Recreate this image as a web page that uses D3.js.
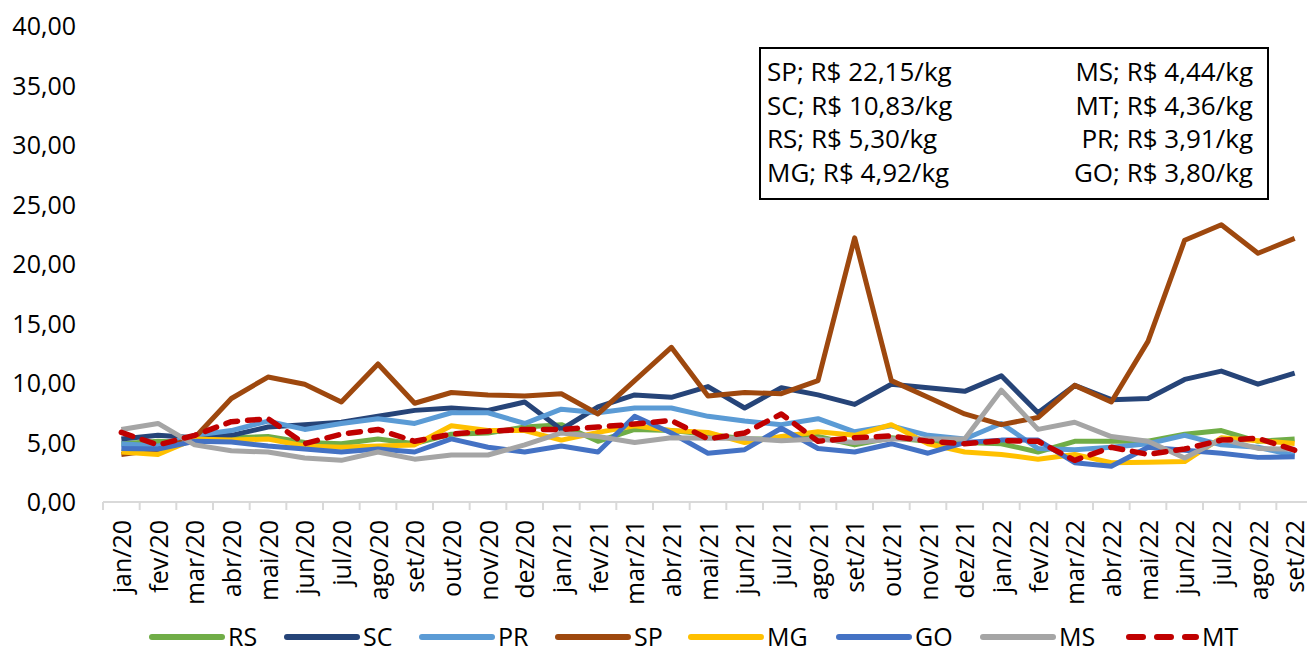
<!doctype html>
<html lang="pt">
<head>
  <meta charset="utf-8">
  <title>Preço por estado</title>
  <script src="https://cdnjs.cloudflare.com/ajax/libs/d3/7.8.5/d3.min.js"></script>
  <style>
    body { margin: 0; background: #fff; overflow: hidden; }
    text { font-family: "Open Sans", "Noto Sans", sans-serif; fill: #000; }
  </style>
</head>
<body>
<script>
  // meses jan/20 .. set/22
  const months = ["jan/20","fev/20","mar/20","abr/20","mai/20","jun/20","jul/20","ago/20","set/20","out/20","nov/20","dez/20",
    "jan/21","fev/21","mar/21","abr/21","mai/21","jun/21","jul/21","ago/21","set/21","out/21","nov/21","dez/21",
    "jan/22","fev/22","mar/22","abr/22","mai/22","jun/22","jul/22","ago/22","set/22"];

  const RS = [4.9,5.1,5.0,5.4,5.5,5.0,4.9,5.3,4.9,5.7,5.8,6.3,6.5,5.1,6.1,6.0,5.7,5.3,5.3,5.5,4.8,5.4,5.1,5.0,4.9,4.2,5.1,5.1,5.1,5.7,6.0,5.1,5.30];
  const SC = [5.3,5.6,5.4,5.6,6.3,6.5,6.7,7.2,7.7,7.9,7.7,8.4,6.1,8.0,9.0,8.8,9.7,7.9,9.6,9.0,8.2,9.9,9.6,9.3,10.6,7.5,9.8,8.6,8.7,10.3,11.0,9.9,10.83];
  const PR = [4.9,4.7,5.6,6.0,6.8,6.1,6.6,7.0,6.6,7.5,7.5,6.6,7.8,7.5,7.9,7.9,7.2,6.8,6.5,7.0,5.9,6.4,5.6,5.3,6.6,4.5,4.4,4.6,4.9,5.6,4.8,4.6,3.91];
  const SP = [4.0,4.4,5.4,8.7,10.5,9.9,8.4,11.6,8.3,9.2,9.0,8.9,9.1,7.4,10.2,13.0,8.9,9.2,9.1,10.2,22.2,10.2,8.8,7.4,6.5,7.1,9.8,8.4,13.5,22.0,23.3,20.9,22.15];
  const MG = [4.2,4.0,5.3,5.2,5.3,4.7,4.6,4.7,4.8,6.4,6.0,6.0,5.2,5.85,6.4,6.0,5.85,5.0,5.5,5.9,5.6,6.5,4.9,4.2,4.0,3.6,4.0,3.3,3.35,3.4,5.4,5.15,4.92];
  const GO = [4.5,4.45,5.1,5.05,4.7,4.45,4.2,4.45,4.2,5.3,4.6,4.2,4.7,4.2,7.2,5.8,4.1,4.4,6.2,4.5,4.2,4.9,4.1,5.0,5.2,5.2,3.3,3.0,4.6,4.35,4.1,3.75,3.80];
  const MS = [6.1,6.6,4.8,4.3,4.2,3.7,3.5,4.2,3.6,3.95,3.95,4.8,5.8,5.5,5.0,5.4,5.35,5.35,5.15,5.3,5.0,5.3,5.3,5.3,9.4,6.1,6.7,5.5,5.1,3.7,5.3,4.5,4.44];
  const MT = [5.85,4.8,5.6,6.75,7.0,4.9,5.7,6.1,5.1,5.7,5.95,6.1,6.1,6.3,6.55,6.85,5.3,5.8,7.4,5.1,5.4,5.55,5.1,4.9,5.15,5.1,3.5,4.6,4.0,4.45,5.2,5.35,4.36];

  const seriesNames = ["RS","SC","PR","SP","MG","GO","MS","MT"];
  const seriesColors = ["#70AD47","#264478","#5B9BD5","#9E480E","#FFC000","#4472C4","#A5A5A5","#C00000"];
  const yTicks = [0,5,10,15,20,25,30,35,40];

  const boxLeft = ["SP; R$ 22,15/kg","SC; R$ 10,83/kg","RS; R$ 5,30/kg","MG; R$ 4,92/kg"];
  const boxRight = ["MS; R$ 4,44/kg","MT; R$ 4,36/kg","PR; R$ 3,91/kg","GO; R$ 3,80/kg"];

  const seriesData = [RS,SC,PR,SP,MG,GO,MS,MT];
  const W = 1307, H = 653;

  let svg = d3.select("body").append("svg")
    .attr("width", W)
    .attr("height", H);

  let x = d3.scaleBand().domain(months).range([103, 1313]);
  let y = d3.scaleLinear().domain([0, 40]).range([502, 26]);
  const bw = x.bandwidth();

  // eixo y (só rótulos)
  let yAxis = svg.append("g")
    .attr("transform", "translate(76,0)")
    .call(d3.axisLeft(y).tickValues(yTicks).tickSize(0).tickPadding(0)
      .tickFormat(d => d3.format(".2f")(d).replace(".", ",")));
  yAxis.select(".domain").remove();
  yAxis.selectAll("text").style("font-size", "25px").attr("font-family", null).attr("dy", "0.35em");

  // eixo x: linha + marcas entre categorias
  let xAxis = svg.append("g");
  xAxis.append("line")
    .attr("x1", x.range()[0]).attr("x2", x.range()[1])
    .attr("y1", y(0)).attr("y2", y(0))
    .attr("stroke", "#D9D9D9").attr("stroke-width", 2);
  xAxis.selectAll("line.tk")
    .data(months.concat(["end"]))
    .enter().append("line")
    .attr("class", "tk")
    .attr("x1", d => d === "end" ? x.range()[1] : x(d))
    .attr("x2", d => d === "end" ? x.range()[1] : x(d))
    .attr("y1", y(0)).attr("y2", y(0) + 8)
    .attr("stroke", "#D9D9D9").attr("stroke-width", 2);
  xAxis.selectAll("text")
    .data(months)
    .enter().append("text")
    .attr("transform", d => `translate(${x(d) + bw / 2 + 1},${y(0) + 18}) rotate(-90)`)
    .attr("text-anchor", "end")
    .attr("dy", "0.35em")
    .style("font-size", "25px")
    .text(d => d);

  // linhas
  let line = d3.line()
    .x((d, i) => x(months[i]) + bw / 2)
    .y(d => y(d));

  seriesData.forEach((vals, k) => {
    let p = svg.append("path")
      .datum(vals)
      .attr("fill", "none")
      .attr("stroke", seriesColors[k])
      .attr("stroke-width", 5)
      .attr("stroke-linejoin", "round")
      .attr("d", line);
    if (seriesNames[k] === "MT") {
      p.attr("stroke-width", 5.5)
        .attr("stroke-dasharray", "12,10")
        .attr("stroke-linecap", "round");
    }
  });

  // caixa de valores
  let box = svg.append("g");
  box.append("rect")
    .attr("x", 760).attr("y", 48)
    .attr("width", 508).attr("height", 151)
    .attr("fill", "#fff").attr("stroke", "#000").attr("stroke-width", 2);
  box.selectAll("text.l")
    .data(boxLeft).enter().append("text")
    .attr("class", "l")
    .attr("x", 767).attr("y", (d, i) => 72 + i * 33.5)
    .attr("dy", "0.35em")
    .style("font-size", "26px")
    .text(d => d);
  box.selectAll("text.r")
    .data(boxRight).enter().append("text")
    .attr("class", "r")
    .attr("x", 1253).attr("y", (d, i) => 72 + i * 33.5)
    .attr("dy", "0.35em")
    .attr("text-anchor", "end")
    .style("font-size", "26px")
    .text(d => d);

  // legenda
  const legX = [152, 287, 422, 558, 691, 839, 983, 1126];
  let leg = svg.append("g");
  seriesNames.forEach((n, k) => {
    let l = leg.append("line")
      .attr("x1", legX[k]).attr("x2", legX[k] + 70)
      .attr("y1", 637).attr("y2", 637)
      .attr("stroke", seriesColors[k])
      .attr("stroke-width", 6)
      .attr("stroke-linecap", "round");
    if (n === "MT") l.attr("stroke-dasharray", "14,14").attr("x1", legX[k] + 3);
    leg.append("text")
      .attr("x", legX[k] + 76).attr("y", 637)
      .attr("dy", "0.35em")
      .style("font-size", "25px")
      .text(n);
  });
</script>
</body>
</html>
